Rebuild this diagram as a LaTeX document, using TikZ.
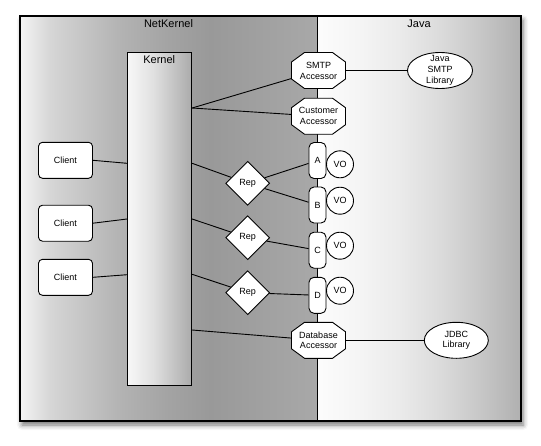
\documentclass[tikz,border=0pt]{standalone}
\usepackage{fontspec}
\setmainfont{Liberation Sans}
\usetikzlibrary{shapes.geometric,shadows.blur,calc}
\pgfdeclarelayer{back}
\pgfdeclarelayer{mid}
\pgfsetlayers{back,mid,main}
\pgfdeclarehorizontalshading{nkshade}{100bp}{%
  rgb(0bp)=(0.96,0.96,0.96); rgb(25bp)=(0.96,0.96,0.96);
  rgb(30bp)=(0.84,0.84,0.84); rgb(35bp)=(0.78,0.78,0.78);
  rgb(42bp)=(0.70,0.70,0.70); rgb(50bp)=(0.64,0.64,0.64);
  rgb(57bp)=(0.60,0.60,0.60); rgb(75bp)=(0.66,0.66,0.66);
  rgb(100bp)=(0.66,0.66,0.66)}
\pgfdeclarehorizontalshading{javashade}{100bp}{%
  rgb(0bp)=(0.99,0.99,0.99); rgb(25bp)=(0.99,0.99,0.99);
  rgb(35bp)=(0.96,0.96,0.96); rgb(45bp)=(0.92,0.92,0.92);
  rgb(55bp)=(0.86,0.86,0.86); rgb(65bp)=(0.78,0.78,0.78);
  rgb(75bp)=(0.69,0.69,0.69); rgb(100bp)=(0.69,0.69,0.69)}
\pgfdeclarehorizontalshading{kshade}{100bp}{%
  rgb(0bp)=(0.97,0.97,0.97); rgb(25bp)=(0.97,0.97,0.97);
  rgb(45bp)=(0.88,0.88,0.88); rgb(75bp)=(0.67,0.67,0.67);
  rgb(100bp)=(0.67,0.67,0.67)}
\tikzset{
  txt/.style={font=\fontsize{9}{10.8}\selectfont, align=center},
  base/.style={txt, draw, line width=0.9pt, fill=white, inner sep=0pt},
  client/.style={base, rectangle, rounded corners=4pt, minimum width=54pt, minimum height=36pt},
  rep/.style={base, diamond, minimum width=44pt, minimum height=44pt},
  slot/.style={base, rectangle, rounded corners=5pt, minimum width=17pt, minimum height=36pt},
  vo/.style={base, circle, minimum size=27pt},
  lib/.style={base, ellipse, minimum width=65pt, minimum height=36pt},
  libtext/.style={txt, inner sep=0pt},
  acc/.style={txt, rectangle, inner sep=0pt, outer sep=0pt, minimum width=54pt, minimum height=36pt},
  oct/.style={draw, line width=0.9pt, fill=white, line join=miter},
  conn/.style={line width=0.9pt},
  title/.style={font=\fontsize{11}{13}\selectfont, inner sep=0pt},
  kernelbox/.style={draw, line width=0.9pt, shading=kshade, rectangle, inner sep=0pt,
    minimum width=64.2pt, minimum height=332.3pt},
}
\begin{document}
\begin{tikzpicture}[x=1pt,y=-1pt]
\useasboundingbox (0,0) rectangle (541,445);
% panels
\begin{pgfonlayer}{back}
  \coordinate (ftl) at (20,16);
  \coordinate (fbr) at (521,421);
  \coordinate (divtop) at (317.3,16);
  \coordinate (divbot) at (317.3,421);
  \path[fill=white, blur shadow={shadow xshift=2pt, shadow yshift=-4pt, shadow blur radius=5pt, shadow opacity=55}] (ftl) rectangle (fbr);
  \shade[shading=nkshade] (ftl) rectangle (divbot);
  \shade[shading=javashade] (divtop) rectangle (fbr);
  \draw[line width=1.1pt] (ftl) rectangle (fbr);
  \draw[line width=1pt] (divtop) -- (divbot);
\end{pgfonlayer}
% titles
\node[title, anchor=base] (nktitle) at (168.5,27.5) {NetKernel};
\node[title, anchor=base] (javatitle) at (419,27.5) {Java};
% kernel
\node[kernelbox] (kernel) at (159.6,218.85) {};
\node[title, anchor=base] (klabel) at (159.2,63) {Kernel};
% clients
\node[client] (client1) at (65.5,160.3) {Client};
\node[client] (client2) at (65.5,223.2) {Client};
\node[client] (client3) at (65.5,277.3) {Client};
% reps
\node[rep] (rep1) at (247.7,183.3) {Rep};
\node[rep] (rep2) at (247.7,237.7) {Rep};
\node[rep] (rep3) at (247.7,292.7) {Rep};
% slots
\node[slot] (slotA) at (317.5,160.5) {A};
\node[slot] (slotB) at (317.5,205) {B};
\node[slot] (slotC) at (317.5,250.2) {C};
\node[slot] (slotD) at (317.5,295.3) {D};
% VO
\node[vo] (vo1) at (340,164.3) {VO};
\node[vo] (vo2) at (340,200.7) {VO};
\node[vo] (vo3) at (340,245.7) {VO};
\node[vo] (vo4) at (340,290.7) {VO};
% accessors
\node[acc] (smtp) at (318.5,70.5) {SMTP\\Accessor};
\node[acc] (cust) at (318.5,116.2) {Customer\\Accessor};
\node[acc] (db) at (318.5,340.3) {Database\\Accessor};
\begin{pgfonlayer}{mid}
  \foreach \n in {smtp,cust,db}
    \draw[oct] ([xshift=13pt]\n.north west) -- ([xshift=-13pt]\n.north east)
      -- ([yshift=-9.5pt]\n.north east) -- ([yshift=9.5pt]\n.south east)
      -- ([xshift=-13pt]\n.south east) -- ([xshift=13pt]\n.south west)
      -- ([yshift=9.5pt]\n.south west) -- ([yshift=-9.5pt]\n.north west) -- cycle;
\end{pgfonlayer}
% libraries
\node[lib] (smtplib) at (440,70.5) {};
\node[libtext] (smtplibtext) at (smtplib) {Java\\SMTP\\Library};
\node[lib, minimum width=64pt] (jdbc) at (456.3,340.3) {};
\node[libtext] (jdbctext) at (jdbc) {JDBC\\Library};
% kernel attachment points
\coordinate (kl1) at (kernel.west |- 0,163.3);
\coordinate (kl2) at (kernel.west |- 0,219);
\coordinate (kl3) at (kernel.west |- 0,274.7);
\coordinate (kr0) at (kernel.east |- 0,108);
\coordinate (kr1) at (kernel.east |- 0,163.3);
\coordinate (kr2) at (kernel.east |- 0,219);
\coordinate (kr3) at (kernel.east |- 0,274.3);
\coordinate (kr4) at (kernel.east |- 0,330);
% connectors
\draw[conn] (client1.east) -- (kl1);
\draw[conn] (client2.east) -- (kl2);
\draw[conn] (client3.east) -- (kl3);
\draw[conn] (kr0) -- (smtp);
\draw[conn] (kr0) -- (cust);
\draw[conn] (kr1) -- (rep1);
\draw[conn] (kr2) -- (rep2);
\draw[conn] (kr3) -- (rep3);
\draw[conn] (kr4) -- (db);
\draw[conn] (rep1) -- (slotA);
\draw[conn] (rep1) -- (slotB);
\draw[conn] (rep2) -- (slotC);
\draw[conn] (rep3) -- (slotD);
\draw[conn] (smtp.east) -- (smtplib.west);
\draw[conn] (db.east) -- (jdbc.west);
\end{tikzpicture}
\end{document}
